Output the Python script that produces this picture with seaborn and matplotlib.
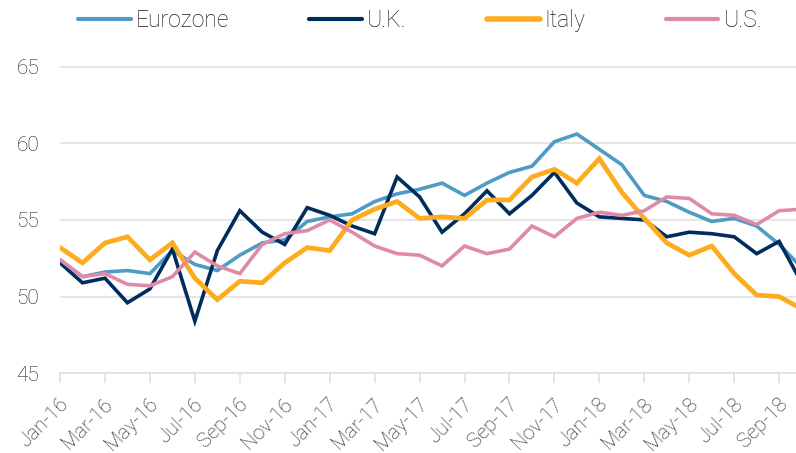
import pandas as pd
import seaborn as sns
import matplotlib.pyplot as plt
from matplotlib.transforms import ScaledTranslation

# monthly PMI readings, Jan-16 .. Oct-18
months = pd.date_range("2016-01-01", "2018-10-01", freq="MS")

eurozone = [52.4, 51.3, 51.6, 51.7, 51.5, 53.0, 52.1, 51.7, 52.7, 53.5, 53.7, 54.9,
            55.2, 55.4, 56.2, 56.7, 57.0, 57.4, 56.6, 57.4, 58.1, 58.5, 60.1, 60.6,
            59.6, 58.6, 56.6, 56.2, 55.5, 54.9, 55.1, 54.6, 53.4, 51.9]
uk = [52.2, 50.9, 51.2, 49.6, 50.5, 53.1, 48.4, 53.0, 55.6, 54.2, 53.4, 55.8,
      55.3, 54.6, 54.1, 57.8, 56.5, 54.2, 55.4, 56.9, 55.4, 56.6, 58.1, 56.1,
      55.2, 55.1, 55.0, 53.9, 54.2, 54.1, 53.9, 52.8, 53.6, 50.9]
italy = [53.2, 52.2, 53.5, 53.9, 52.4, 53.5, 51.2, 49.8, 51.0, 50.9, 52.2, 53.2,
         53.0, 55.0, 55.7, 56.2, 55.1, 55.2, 55.1, 56.3, 56.3, 57.8, 58.3, 57.4,
         59.0, 56.8, 55.1, 53.5, 52.7, 53.3, 51.5, 50.1, 50.0, 49.2]
us = [52.4, 51.3, 51.5, 50.8, 50.7, 51.3, 52.9, 52.0, 51.5, 53.4, 54.1, 54.3,
      55.0, 54.2, 53.3, 52.8, 52.7, 52.0, 53.3, 52.8, 53.1, 54.6, 53.9, 55.1,
      55.5, 55.3, 55.6, 56.5, 56.4, 55.4, 55.3, 54.7, 55.6, 55.7]

series_names = ["Eurozone", "U.K.", "Italy", "U.S."]
colors = {"Eurozone": "#4e9bc6", "U.K.": "#002d5e", "Italy": "#fdab1f", "U.S.": "#de8aa8"}
widths = {"Eurozone": 2.6, "U.K.": 2.6, "Italy": 3.4, "U.S.": 2.6}

tick_labels = [d.strftime("%b-%y") for d in months[::2]]

df = pd.DataFrame({
    "month": list(range(len(months))) * 4,
    "value": eurozone + uk + italy + us,
    "series": sum([[n] * len(months) for n in series_names], []),
})

sns.set_theme(style="white")
plt.rcParams["font.family"] = ["Roboto", "DejaVu Sans"]
plt.rcParams["font.weight"] = "light"

fig = plt.figure(figsize=(7.96, 4.53), dpi=100)
ax = fig.add_axes([0.0754, 0.176, 0.9246, 0.7786])

grid_c = "#dedede"
text_c = "#1e1e1e"
for yv in [45, 50, 55, 60, 65]:
    ax.axhline(yv, color=grid_c, lw=1.1, zorder=0)

sns.lineplot(data=df, x="month", y="value", hue="series", hue_order=series_names,
             palette=colors, size="series", sizes=widths, size_order=series_names,
             legend=False, ax=ax)
for ln in ax.get_lines():
    ln.set_solid_joinstyle("miter")

ax.set_xlim(0, 32.75)
ax.set_ylim(45, 68)
ax.set_yticks([45, 50, 55, 60, 65])
ax.set_xticks(range(0, len(months), 2))
ax.set_xticklabels(tick_labels, rotation=45, ha="right", va="center",
                   rotation_mode="anchor")
ax.set_xlabel("")
ax.set_ylabel("")

for s in ["top", "right", "left"]:
    ax.spines[s].set_visible(False)
ax.spines["bottom"].set_color(grid_c)
ax.spines["bottom"].set_linewidth(1.1)

ax.tick_params(axis="y", length=0, pad=15, labelsize=15, labelcolor=text_c)
ax.tick_params(axis="x", length=7, width=1.1, color=grid_c, direction="out",
               pad=11, labelsize=14.5, labelcolor=text_c)
ax.tick_params(axis="x", bottom=True)

# nudge the rotated month labels a little right/down, like the original
shift = ScaledTranslation(5 / 100, -3 / 100, fig.dpi_scale_trans)
for lbl in ax.get_xticklabels():
    lbl.set_transform(lbl.get_transform() + shift)

handles = [plt.Line2D([], [], color=colors[n], lw=widths[n] + 0.6 if n == "Italy" else widths[n] + 0.4)
           for n in series_names]
fig.legend(handles, series_names, loc="center left", bbox_to_anchor=(0.098, 0.954),
           ncol=4, frameon=False, handlelength=2.3, handletextpad=0.22,
           columnspacing=3.5, borderpad=0, borderaxespad=0,
           prop={"size": 16.5, "weight": "light"}, labelcolor=text_c)

fig.savefig("out.png", dpi=100)
